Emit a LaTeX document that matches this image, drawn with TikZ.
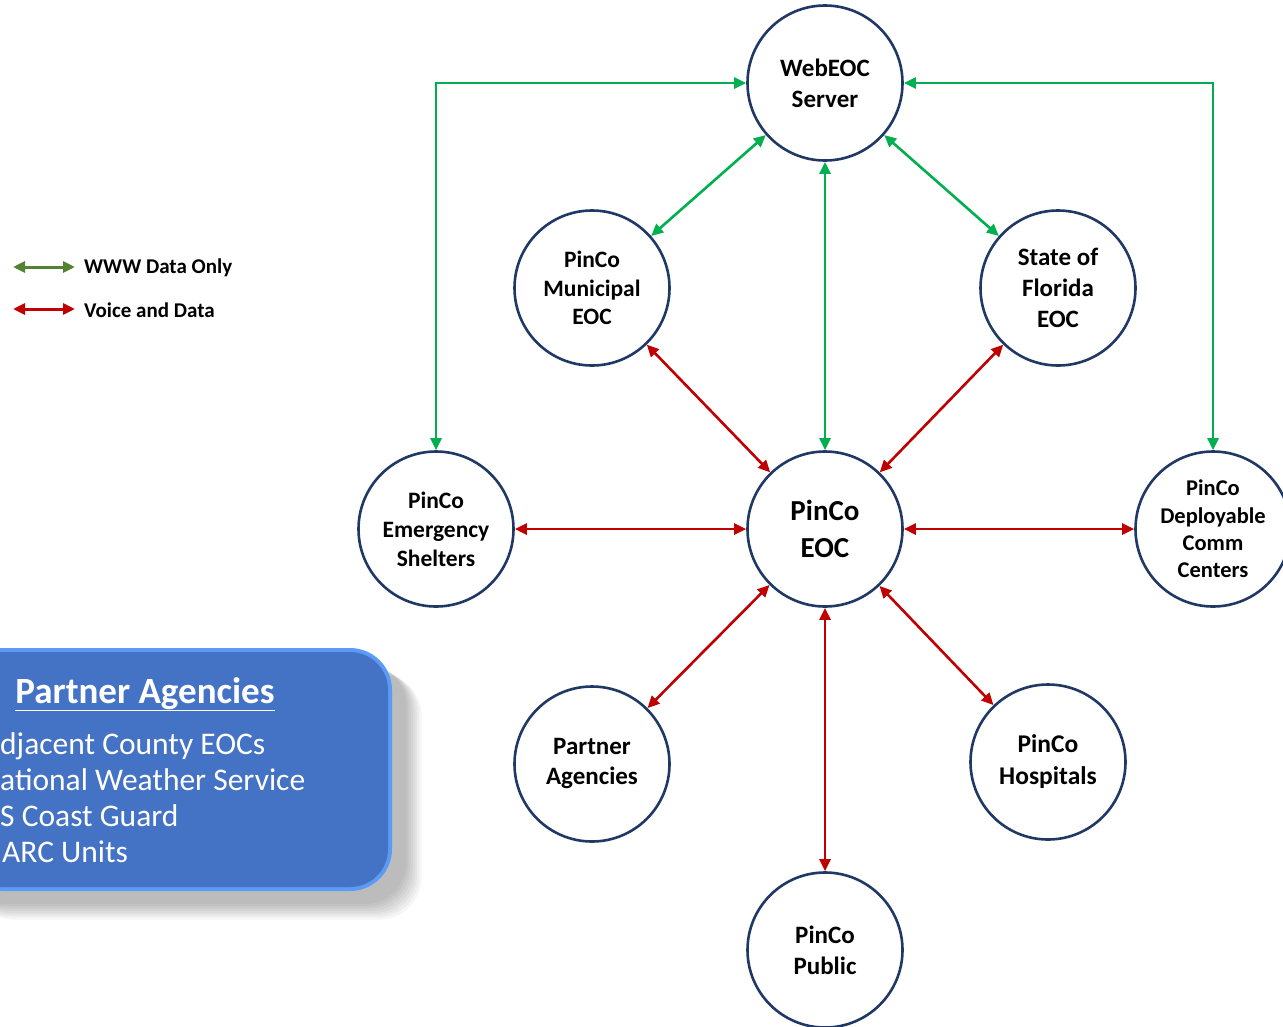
\documentclass[tikz,border=0pt]{standalone}
\usepackage{fontspec}
\setmainfont{Carlito}
\usetikzlibrary{arrows.meta}
\definecolor{navy}{HTML}{1F3864}
\definecolor{lgreen}{HTML}{00B050}
\definecolor{dgreen}{HTML}{548235}
\definecolor{dred}{HTML}{C00000}
\definecolor{boxblue}{HTML}{4472C4}
\definecolor{boxedge}{HTML}{5B9BF5}
\tikzset{
  hub/.style={circle, draw=navy, line width=2.6pt, fill=white, minimum size=155pt, inner sep=0pt, align=center, font=\bfseries},
  tip/.style={{Triangle[length=12pt,width=11pt]}-{Triangle[length=12pt,width=11pt]}},
  www/.style={tip, draw=lgreen, line width=2.6pt},
  voice/.style={tip, draw=dred, line width=2.6pt},
  legtxt/.style={anchor=west, font=\bfseries\fontsize{21}{25}\selectfont, inner sep=0pt},
  itemtxt/.style={anchor=base west, text=white, font=\fontsize{31.5}{36}\selectfont, inner sep=0pt},
}
\begin{document}
\begin{tikzpicture}[x=1pt,y=-1pt]
\useasboundingbox (0,0) rectangle (1283,1026);
\clip (0,0) rectangle (1283,1026);
\fill[white] (0,0) rectangle (1283,1026);
% nodes
\node[hub, font=\bfseries\fontsize{25}{31}\selectfont] (web) at (825,83) {WebEOC\\Server};
\node[hub, font=\bfseries\fontsize{23.5}{28.5}\selectfont] (mun) at (592,288) {PinCo\\Municipal\\EOC};
\node[hub, font=\bfseries\fontsize{25}{31}\selectfont] (sta) at (1058,288) {State of\\Florida\\EOC};
\node[hub, font=\bfseries\fontsize{23.5}{29}\selectfont] (she) at (436,529) {PinCo\\Emergency\\Shelters};
\node[hub, font=\bfseries\fontsize{29}{37}\selectfont] (eoc) at (825,529) {PinCo\\EOC};
\node[hub, font=\bfseries\fontsize{22.5}{27.3}\selectfont] (dep) at (1213,529) {PinCo\\Deployable\\Comm\\Centers};
\node[hub, font=\bfseries\fontsize{25}{30}\selectfont] (par) at (592,764) {Partner\\Agencies};
\node[hub, font=\bfseries\fontsize{25.5}{32}\selectfont] (hos) at (1048,762) {PinCo\\Hospitals};
\node[hub, font=\bfseries\fontsize{25}{31}\selectfont] (pub) at (825,950) {PinCo\\Public};
% green connectors
\draw[www] (she.north) |- (web.west);
\draw[www] (dep.north) |- (web.east);
\draw[www] (web) -- (mun);
\draw[www] (web) -- (sta);
\draw[www] (web) -- (eoc);
% red connectors
\draw[voice] (eoc) -- (mun);
\draw[voice] (eoc) -- (sta);
\draw[voice] (eoc) -- (she);
\draw[voice] (eoc) -- (dep);
\draw[voice] (eoc) -- (par);
\draw[voice] (eoc) -- (hos);
\draw[voice] (eoc) -- (pub);
% legend
\coordinate (lg1) at (13,267); \coordinate (lg2) at (75,267);
\coordinate (lr1) at (13,309); \coordinate (lr2) at (75,309);
\draw[tip, draw=dgreen, line width=3pt] (lg1) -- (lg2);
\draw[tip, draw=dred, line width=3pt] (lr1) -- (lr2);
\node[legtxt] (lgt) at (84,268) {WWW Data Only};
\node[legtxt] (lrt) at (84,310) {Voice and Data};
% partner agencies box with shadow
\foreach \i in {1,...,8} {
  \fill[black, opacity=0.035, rounded corners=42pt] (-40+\i*1.5,662+\i*1.5) rectangle (404+\i*2.2,902+\i*2.2);
}
\fill[boxedge, rounded corners=42pt] (-40,648) rectangle (392,891);
\fill[boxblue, rounded corners=38pt] (-40,652) rectangle (388,887);
\node[anchor=base, text=white, font=\bfseries\fontsize{37}{42}\selectfont, inner sep=0pt] (title) at (145,703) {\underline{Partner Agencies}};
\node[itemtxt] (i1) at (0,754) {djacent County EOCs};
\node[itemtxt] (i2) at (0,790) {ational Weather Service};
\node[itemtxt] (i3) at (0,826) {S Coast Guard};
\node[itemtxt] (i4) at (2,862) {ARC Units};
\end{tikzpicture}
\end{document}
